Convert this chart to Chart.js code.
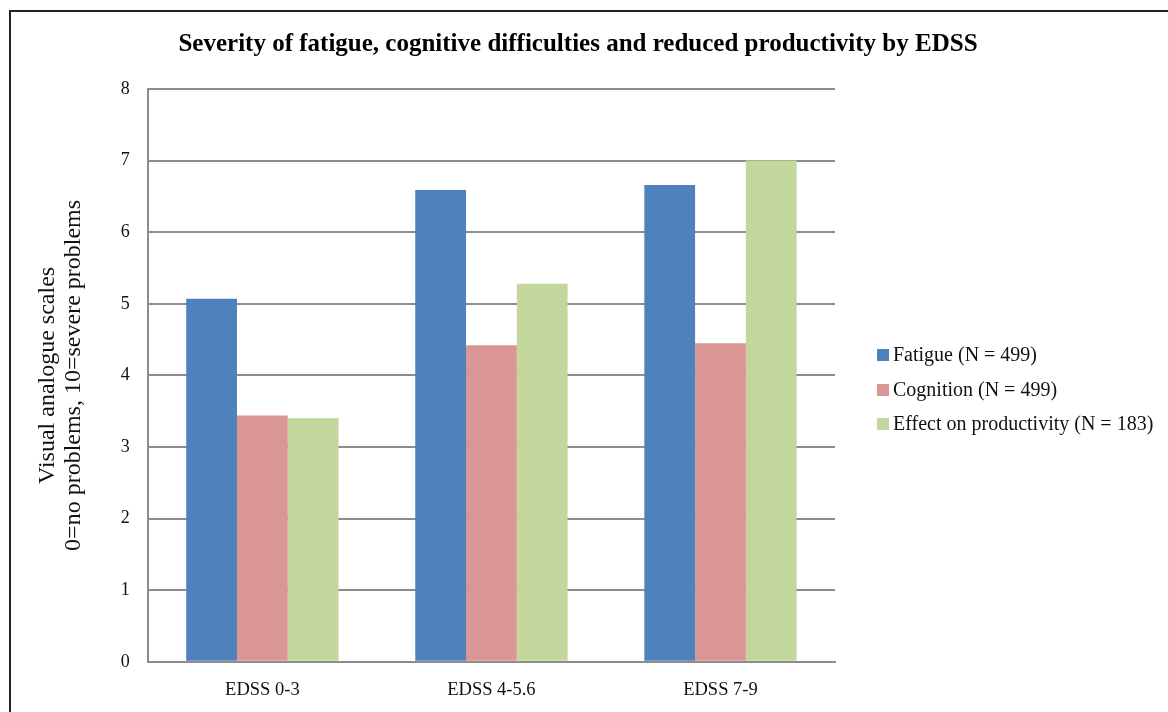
<!DOCTYPE html>
<html>
<head>
<meta charset="utf-8">
<script src="https://cdn.jsdelivr.net/npm/chart.js@4.4.0/dist/chart.umd.min.js"></script>
<style>
  html, body { margin: 0; padding: 0; background: #fff; overflow: hidden; }
  #wrap { position: relative; width: 1168px; height: 712px; overflow: hidden; }
  #frame { position: absolute; left: 9px; top: 10px; width: 1300px; height: 800px; border: 2px solid #222; box-sizing: border-box; }
  #chart { position: absolute; left: 0; top: 0; }
  #legend { position: absolute; left: 877px; top: 338px; font: 20px "Liberation Serif", serif; color: #111; }
  #legend div { height: 34.5px; line-height: 32px; white-space: nowrap; }
  #legend span { display: inline-block; width: 12px; height: 12px; margin-right: 4px; vertical-align: 0px; }
</style>
</head>
<body>
<div id="wrap">
  <div id="frame"></div>
  <canvas id="chart" width="1168" height="718"></canvas>
  <div id="legend"></div>
</div>
<script>
// values
const categories = ['EDSS 0-3', 'EDSS 4-5.6', 'EDSS 7-9'];
const seriesNames = ['Fatigue (N = 499)', 'Cognition (N = 499)', 'Effect on productivity (N = 183)'];
const fatigue = [5.07, 6.59, 6.66];
const cognition = [3.44, 4.42, 4.45];
const productivity = [3.40, 5.28, 7.00];
const colors = ['#4F81BD', '#D99694', '#C3D69B'];
const yTicks = [0, 1, 2, 3, 4, 5, 6, 7, 8];
const chartTitle = 'Severity of fatigue, cognitive difficulties and reduced productivity by EDSS';

const serif = '"Liberation Serif", "DejaVu Serif", serif';
const allSeries = [fatigue, cognition, productivity];

function makeDatasets() {
    return allSeries.map((vals, i) => ({
        label: seriesNames[i],
        data: vals,
        backgroundColor: colors[i],
        borderWidth: 0,
        categoryPercentage: 0.665,
        barPercentage: 1.0
    }));
}

// title is centred on the whole picture, not on the plot area
const pageTitle = {
    id: 'pageTitle',
    afterDraw(chart) {
        const c = chart.ctx;
        c.save();
        c.font = 'bold 25px ' + serif;
        c.fillStyle = '#000';
        c.textAlign = 'center';
        c.textBaseline = 'middle';
        c.fillText(chartTitle, 578, 45);
        c.restore();
    }
};

// simple html legend, built from the same arrays
function buildLegend() {
    const box = document.getElementById('legend');
    seriesNames.forEach((name, i) => {
        const row = document.createElement('div');
        const sw = document.createElement('span');
        sw.style.background = colors[i];
        row.appendChild(sw);
        row.appendChild(document.createTextNode(name));
        box.appendChild(row);
    });
}

document.addEventListener('DOMContentLoaded', function() {
    const ctx = document.getElementById('chart');
    new Chart(ctx, {
        type: 'bar',
        data: {
            labels: categories,
            datasets: makeDatasets()
        },
        plugins: [pageTitle],
        options: {
            responsive: false,
            animation: false,
            layout: { padding: { left: 35, right: 333, top: 89, bottom: 0 } },
            plugins: {
                legend: { display: false },
                tooltip: { enabled: false },
                title: { display: false }
            },
            scales: {
                x: {
                    grid: { display: false, drawTicks: false },
                    border: { color: '#8c8c8c', width: 2 },
                    ticks: { color: '#111', font: { family: serif, size: 18.5 }, padding: 17 }
                },
                y: {
                    min: 0,
                    max: 8,
                    afterBuildTicks: axis => { axis.ticks = yTicks.map(v => ({ value: v })); },
                    grid: { color: '#8c8c8c', lineWidth: 2, drawTicks: false },
                    border: { color: '#8c8c8c', width: 2 },
                    ticks: { color: '#111', font: { family: serif, size: 18 }, padding: 18 },
                    title: {
                        display: true,
                        text: ['Visual analogue scales', '0=no problems, 10=severe problems'],
                        color: '#111',
                        font: { family: serif, size: 24, lineHeight: 1.08 },
                        padding: { top: 0, bottom: 16 }
                    }
                }
            }
        }
    });
    buildLegend();
});
</script>
</body>
</html>
